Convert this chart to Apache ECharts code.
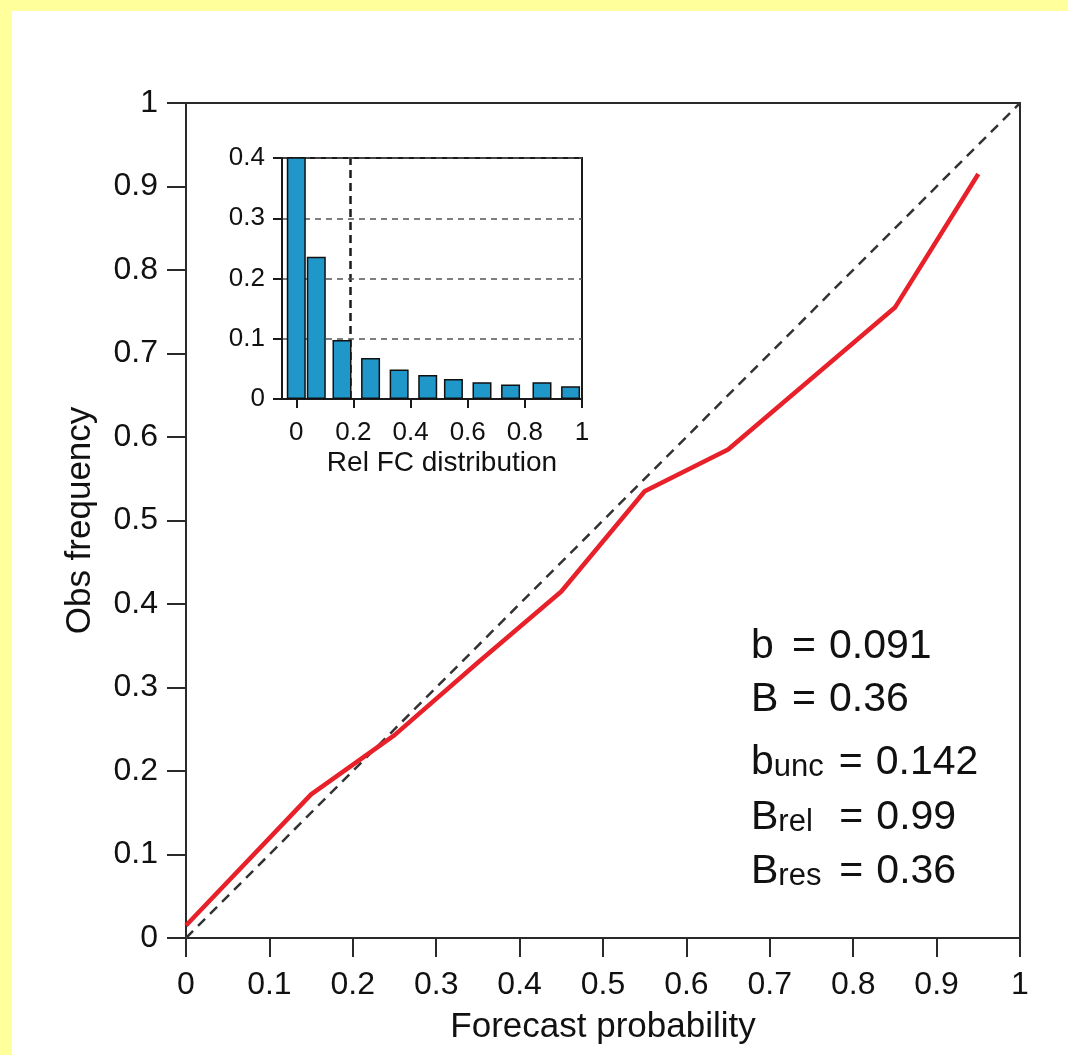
<!DOCTYPE html>
<html>
<head>
<meta charset="utf-8">
<script src="https://cdn.jsdelivr.net/npm/echarts@6/dist/echarts.min.js"></script>
<style>
  html, body { margin: 0; padding: 0; background: #ffff9c; width: 1068px; height: 1055px; overflow: hidden; }
  #paper { position: absolute; left: 12px; top: 11px; width: 1056px; height: 1044px; background: #ffffff; }
  #chart { position: absolute; left: 0; top: 0; width: 1068px; height: 1055px; }
</style>
</head>
<body>
<div id="paper"></div>
<div id="chart"></div>
<script>
// ---- Data ----
// Reliability curve (forecast probability -> observed frequency)
const relX = [0, 0.15, 0.25, 0.35, 0.45, 0.55, 0.65, 0.75, 0.85, 0.95];
const relY = [0.015, 0.172, 0.243, 0.33, 0.415, 0.535, 0.585, 0.67, 0.755, 0.915];
// Perfect reliability diagonal
const diagX = [0, 1];
const diagY = [0, 1];
// Inset: relative forecast distribution (histogram)
const histX = [0, 0.07, 0.16, 0.26, 0.36, 0.46, 0.55, 0.65, 0.75, 0.86, 0.96];
const histY = [0.48, 0.236, 0.098, 0.068, 0.049, 0.040, 0.033, 0.028, 0.024, 0.028, 0.021];
const climLine = 0.19;
// Tick labels
const insetXTicks = [0, 0.2, 0.4, 0.6, 0.8, 1];
// Score text
const scoreLines = [
  { lab: 'b', sub: '', val: '0.091' },
  { lab: 'B', sub: '', val: '0.36' },
  { lab: 'b', sub: 'unc', val: '0.142' },
  { lab: 'B', sub: 'rel', val: '0.99' },
  { lab: 'B', sub: 'res', val: '0.36' }
];

const FONT = '"Liberation Sans", Arial, Helvetica, sans-serif';
const INK = '#111111';
const fmt = v => String(+(+v).toFixed(2));

const chart = echarts.init(document.getElementById('chart'), null, { renderer: 'canvas' });

const textEls = scoreLines.map((l, i) => {
  const hasSub = l.sub.length > 0;
  const labW = hasSub ? 88 : 41;
  let text;
  if (hasSub) {
    text = '{m|' + l.lab + '}{s|' + l.sub + '}{e|=}{m|' + l.val + '}';
  } else {
    text = '{ml|' + l.lab + '}{e|=}{m|' + l.val + '}';
  }
  const letterW = l.lab === 'b' ? 23 : 27;
  return {
    type: 'text',
    left: 751,
    top: [626, 679, 733, 788, 842][i],
    silent: true,
    style: {
      text: text,
      fill: INK,
      font: '41px ' + FONT,
      rich: {
        m: { fontSize: 41, fontFamily: FONT, lineHeight: 50, fill: INK, verticalAlign: 'bottom' },
        ml: { fontSize: 41, fontFamily: FONT, lineHeight: 50, fill: INK, width: labW, verticalAlign: 'bottom' },
        s: { fontSize: 31, fontFamily: FONT, lineHeight: 31, padding: [19, 0, 0, 0], fill: INK, width: labW - letterW, verticalAlign: 'bottom' },
        e: { fontSize: 41, fontFamily: FONT, lineHeight: 50, fill: INK, width: 37, verticalAlign: 'bottom' }
      }
    }
  };
});

const option = {
  backgroundColor: 'transparent',
  animation: false,
  textStyle: { fontFamily: FONT },
  grid: [
    { left: 186, top: 103, width: 834, height: 835, show: true, borderColor: '#2a2a2a', borderWidth: 2, backgroundColor: 'transparent' },
    { left: 282, top: 158, width: 300, height: 241, show: true, borderColor: '#1a1a1a', borderWidth: 2, backgroundColor: '#ffffff', z: 5 }
  ],
  xAxis: [
    {
      gridIndex: 0, type: 'value', min: 0, max: 1, interval: 0.1,
      axisLine: { show: true, onZero: false, lineStyle: { color: '#2a2a2a', width: 2 } },
      axisTick: { show: true, inside: false, length: 19, lineStyle: { color: '#2a2a2a', width: 2 } },
      axisLabel: { fontSize: 32, color: INK, margin: 31, formatter: fmt, fontFamily: FONT },
      splitLine: { show: false },
      name: 'Forecast probability', nameLocation: 'middle', nameGap: 72,
      nameTextStyle: { fontSize: 35, color: INK, fontFamily: FONT }
    },
    {
      gridIndex: 1, type: 'value', min: -0.05, max: 1,
      axisLine: { show: true, onZero: false, lineStyle: { color: '#1a1a1a', width: 2 } },
      axisTick: { show: true, inside: false, length: 9, customValues: insetXTicks, lineStyle: { color: '#1a1a1a', width: 2 } },
      axisLabel: { fontSize: 26, color: INK, margin: 21, customValues: insetXTicks, formatter: fmt, fontFamily: FONT, showMinLabel: true, showMaxLabel: true },
      splitLine: { show: false },
      name: 'Rel FC distribution', nameLocation: 'middle', nameGap: 50,
      nameTextStyle: { fontSize: 28, color: INK, fontFamily: FONT, padding: [0, 0, 0, 20] },
      z: 6
    }
  ],
  yAxis: [
    {
      gridIndex: 0, type: 'value', min: 0, max: 1, interval: 0.1,
      axisLine: { show: true, onZero: false, lineStyle: { color: '#2a2a2a', width: 2 } },
      axisTick: { show: true, inside: false, length: 19, lineStyle: { color: '#2a2a2a', width: 2 } },
      axisLabel: { fontSize: 32, color: INK, margin: 28, formatter: fmt, fontFamily: FONT },
      splitLine: { show: false },
      name: 'Obs frequency', nameLocation: 'middle', nameGap: 88,
      nameTextStyle: { fontSize: 35, color: INK, fontFamily: FONT }
    },
    {
      gridIndex: 1, type: 'value', min: 0, max: 0.4, interval: 0.1,
      axisLine: { show: true, onZero: false, lineStyle: { color: '#1a1a1a', width: 2 } },
      axisTick: { show: true, inside: false, length: 9, lineStyle: { color: '#1a1a1a', width: 2 } },
      axisLabel: { fontSize: 26, color: INK, margin: 17, formatter: fmt, fontFamily: FONT },
      splitLine: { show: true, lineStyle: { color: '#555555', width: 1.5, type: [6, 5] } },
      z: 6
    }
  ],
  series: [
    {
      name: 'diagonal', type: 'line', xAxisIndex: 0, yAxisIndex: 0,
      data: diagX.map((x, i) => [x, diagY[i]]),
      symbol: 'none', silent: true, z: 2,
      lineStyle: { color: '#333333', width: 2.5, type: [10, 7] }
    },
    {
      name: 'reliability', type: 'line', xAxisIndex: 0, yAxisIndex: 0,
      data: relX.map((x, i) => [x, relY[i]]),
      symbol: 'none', silent: true, z: 3,
      lineStyle: { color: '#e8202a', width: 4.5 }
    },
    {
      name: 'clim', type: 'line', xAxisIndex: 1, yAxisIndex: 1,
      data: [], symbol: 'none', silent: true, z: 7,
      markLine: {
        silent: true, symbol: 'none', label: { show: false },
        lineStyle: { color: '#1a1a1a', width: 2.5, type: [8, 5] },
        data: [{ xAxis: climLine }]
      }
    },
    {
      name: 'hist', type: 'bar', xAxisIndex: 1, yAxisIndex: 1,
      data: histX.map((x, i) => [x, histY[i]]),
      barWidth: 19, clip: true, silent: true, z: 8,
      itemStyle: { color: '#1f97c8', borderColor: '#111111', borderWidth: 1.5 }
    }
  ],
  graphic: textEls
};

chart.setOption(option);
</script>
</body>
</html>
